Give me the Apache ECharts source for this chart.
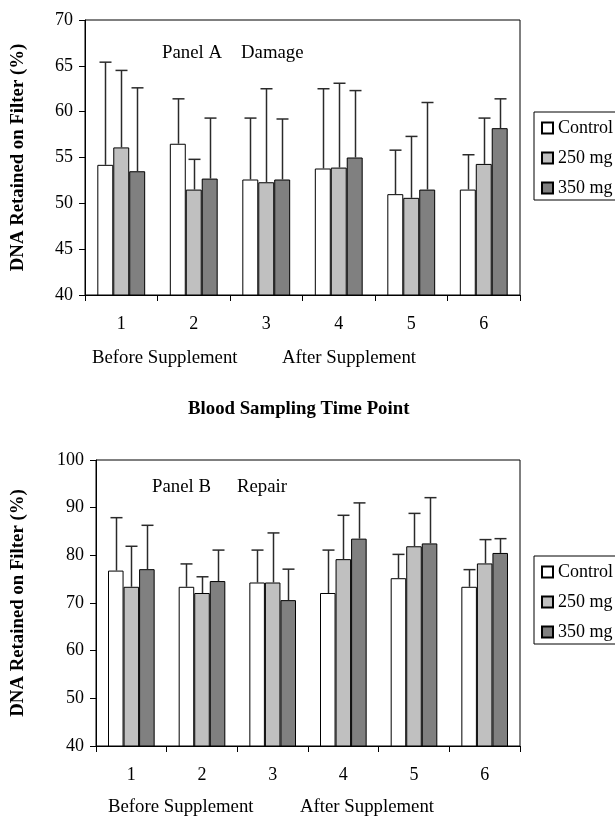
<!DOCTYPE html>
<html><head><meta charset="utf-8">
<script src="https://cdn.jsdelivr.net/npm/echarts@6/dist/echarts.min.js"></script>
<style>html,body{margin:0;padding:0;background:#fff}#c{width:615px;height:821px}</style>
</head><body><div id="c"></div>
<script>
const categories = ['1','2','3','4','5','6'];
const seriesNames = ['Control','250 mg','350 mg'];
const colors = ['#ffffff','#c0c0c0','#808080'];

// Panel A (Damage): means and mean+SD tops
const damageControl = [54.2, 56.5, 52.6, 53.8, 51.0, 51.5];
const damage250 = [56.1, 51.5, 52.3, 53.9, 50.6, 54.3];
const damage350 = [53.5, 52.7, 52.6, 55.0, 51.5, 58.2];
const damageControlErr = [65.4, 61.4, 59.3, 62.5, 55.8, 55.3];
const damage250Err = [64.5, 54.8, 62.5, 63.1, 57.3, 59.3];
const damage350Err = [62.6, 59.3, 59.2, 62.3, 61.0, 61.4];

// Panel B (Repair)
const repairControl = [76.8, 73.4, 74.3, 72.1, 75.2, 73.4];
const repair250 = [73.4, 72.1, 74.3, 79.2, 81.9, 78.3];
const repair350 = [77.1, 74.6, 70.6, 83.5, 82.5, 80.5];
const repairControlErr = [87.9, 78.2, 81.1, 81.1, 80.2, 77.0];
const repair250Err = [81.9, 75.5, 84.7, 88.4, 88.8, 83.3];
const repair350Err = [86.3, 81.1, 77.1, 91.0, 92.1, 83.5];

const yTicksA = {min: 40, max: 70, interval: 5};
const yTicksB = {min: 40, max: 100, interval: 10};

const FONT = 'Liberation Serif';
const FS = 18;
const FT = 18.8;
const BW = 0.22;

function barSeries(name, data, idx, axis) {
  return {
    type: 'bar', name: name, data: data, xAxisIndex: axis, yAxisIndex: axis,
    barWidth: (BW*100) + '%', barGap: '0%',
    itemStyle: {color: colors[idx], borderColor: '#000', borderWidth: 1},
    emphasis: {disabled: true}, silent: true, z: 2
  };
}
function errSeries(means, tops, idx, axis) {
  return {
    type: 'custom', xAxisIndex: axis, yAxisIndex: axis, silent: true, z: 3,
    data: means.map((m, i) => [i, m, tops[i]]),
    encode: {x: 0, y: [1, 2]},
    renderItem: function (params, api) {
      const catW = api.size([1, 0])[0];
      const bw = catW * BW;
      const base = api.coord([api.value(0), api.value(1)]);
      const top = api.coord([api.value(0), api.value(2)]);
      const x = Math.round(base[0] + (idx - 1) * bw) + 0.5;
      const st = {stroke: '#2a2a2a', lineWidth: 1.5};
      return {type: 'group', children: [
        {type: 'line', shape: {x1: x, y1: base[1], x2: x, y2: top[1]}, style: st},
        {type: 'line', shape: {x1: x - 6, y1: top[1], x2: x + 6, y2: top[1]}, style: st}
      ]};
    }
  };
}

const chart = echarts.init(document.getElementById('c'), null, {renderer: 'canvas'});
const axisLine = {show: true, lineStyle: {color: '#000', width: 1}};

function xAxis(gi) {
  return {
    type: 'category', gridIndex: gi, data: categories, boundaryGap: true,
    axisLine: axisLine, axisTick: {show: true, length: 6, lineStyle: {color: '#000'}},
    axisLabel: {fontFamily: FONT, fontSize: FS, color: '#000', margin: 20},
    splitLine: {show: false}
  };
}
function yAxis(gi, t, gap) {
  return {
    type: 'value', gridIndex: gi, min: t.min, max: t.max, interval: t.interval,
    axisLine: axisLine, axisTick: {show: true, length: 6, lineStyle: {color: '#000'}},
    axisLabel: {fontFamily: FONT, fontSize: FS, color: '#000', margin: 12},
    splitLine: {show: false},
    name: 'DNA Retained on Filter (%)', nameLocation: 'middle', nameGap: gap, nameRotate: 90,
    nameTextStyle: {fontFamily: FONT, fontSize: FT, fontWeight: 'bold', color: '#000'}
  };
}
function legend(top) {
  return {
    orient: 'vertical', left: 534, top: top, data: seriesNames,
    icon: 'rect', itemWidth: 11, itemHeight: 11, itemGap: 12,
    borderColor: '#000', borderWidth: 1, padding: [7, 40, 3, 7],
    textStyle: {fontFamily: FONT, fontSize: FS, color: '#000'},
    selectedMode: false
  };
}
function txt(s, x, y, bold) {
  return {type: 'text', left: x, top: y, style: {text: s, font: (bold ? 'bold ' : '') + FT + 'px "Liberation Serif"', fill: '#000'}};
}

chart.setOption({
  animation: false,
  grid: [
    {left: 85, top: 20, width: 435, height: 275, show: true, borderColor: '#000', borderWidth: 1, backgroundColor: 'transparent'},
    {left: 96, top: 460, width: 424, height: 286, show: true, borderColor: '#000', borderWidth: 1, backgroundColor: 'transparent'}
  ],
  xAxis: [xAxis(0), xAxis(1)],
  yAxis: [yAxis(0, yTicksA, 57), yAxis(1, yTicksB, 68)],
  legend: [legend(112), legend(556)],
  graphic: [
    txt('Panel A', 162, 44), txt('Damage', 241, 44),
    txt('Panel B', 152, 478), txt('Repair', 237, 478),
    txt('Before Supplement', 92, 349), txt('After Supplement', 282, 349),
    txt('Blood Sampling Time Point', 188, 400, true),
    txt('Before Supplement', 108, 798), txt('After Supplement', 300, 798)
  ],
  series: [
    barSeries(seriesNames[0], damageControl, 0, 0),
    barSeries(seriesNames[1], damage250, 1, 0),
    barSeries(seriesNames[2], damage350, 2, 0),
    errSeries(damageControl, damageControlErr, 0, 0),
    errSeries(damage250, damage250Err, 1, 0),
    errSeries(damage350, damage350Err, 2, 0),
    barSeries(seriesNames[0], repairControl, 0, 1),
    barSeries(seriesNames[1], repair250, 1, 1),
    barSeries(seriesNames[2], repair350, 2, 1),
    errSeries(repairControl, repairControlErr, 0, 1),
    errSeries(repair250, repair250Err, 1, 1),
    errSeries(repair350, repair350Err, 2, 1)
  ]
});
</script></body></html>
